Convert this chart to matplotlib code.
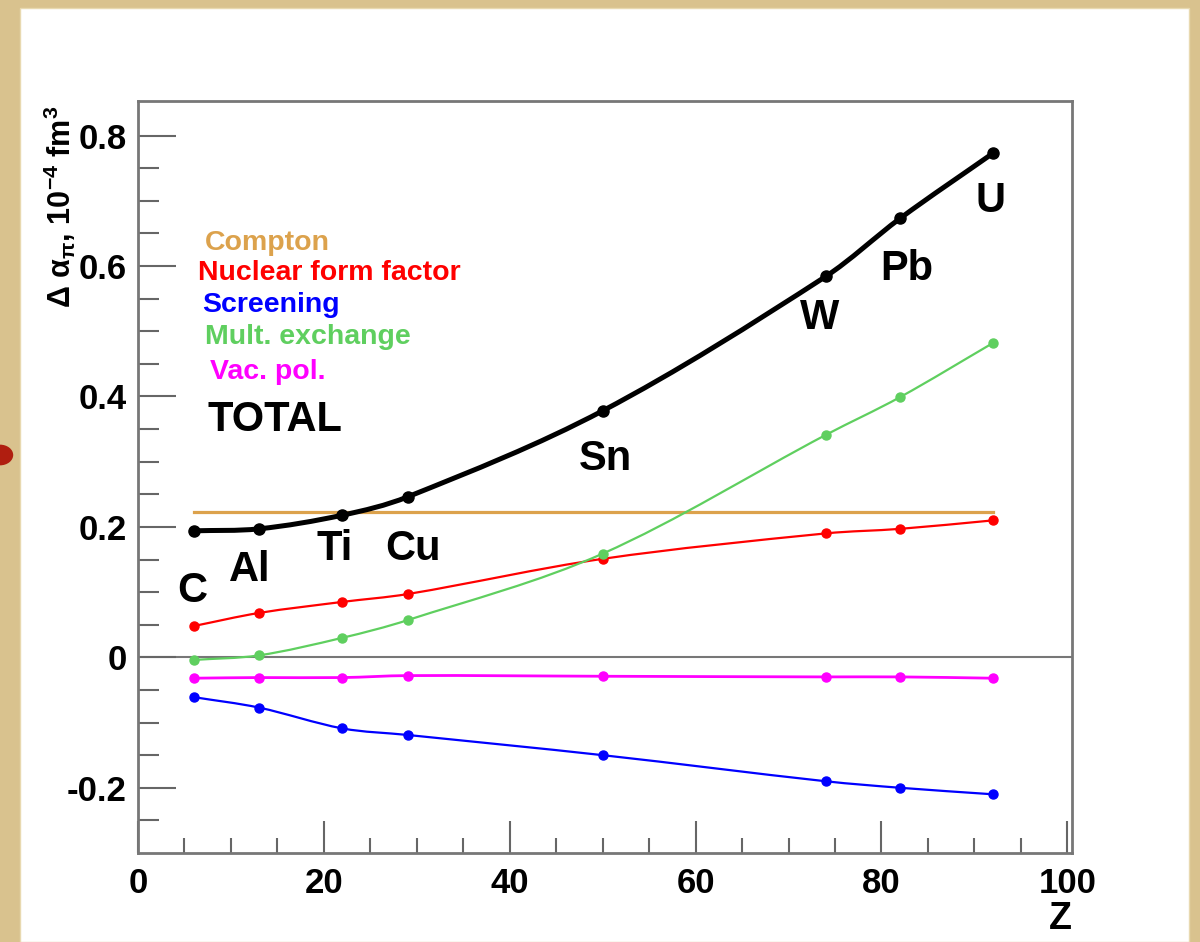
import numpy as np
import matplotlib.pyplot as plt
from matplotlib.path import Path
from matplotlib.patches import PathPatch, Rectangle, Circle

plt.rcParams['font.family'] = ['Liberation Sans', 'DejaVu Sans']
plt.rcParams['font.weight'] = 'bold'
plt.rcParams['mathtext.fontset'] = 'custom'
plt.rcParams['mathtext.rm'] = 'Liberation Sans:bold'
plt.rcParams['mathtext.it'] = 'Liberation Sans:bold'
plt.rcParams['mathtext.bf'] = 'Liberation Sans:bold'

# nuclei and their charge
elements = ['C', 'Al', 'Ti', 'Cu', 'Sn', 'W', 'Pb', 'U']
z = [6, 13, 22, 29, 50, 74, 82, 92]

# corrections to alpha_pi, 10^-4 fm^3
compton = [0.223, 0.223, 0.223, 0.223, 0.223, 0.223, 0.223, 0.223]
nuclear_ff = [0.048, 0.068, 0.085, 0.097, 0.151, 0.190, 0.197, 0.210]
screening = [-0.061, -0.077, -0.109, -0.119, -0.150, -0.190, -0.200, -0.210]
mult_exchange = [-0.004, 0.003, 0.030, 0.057, 0.159, 0.341, 0.399, 0.482]
vac_pol = [-0.032, -0.031, -0.031, -0.028, -0.029, -0.030, -0.030, -0.032]
total = [0.194, 0.197, 0.218, 0.246, 0.378, 0.584, 0.673, 0.773]


def smooth_path(xs, ys):
    # cubic Hermite segments as Bezier curves through the points
    xs = np.asarray(xs, float)
    ys = np.asarray(ys, float)
    n = len(xs)
    m = np.empty(n)
    m[0] = (ys[1] - ys[0]) / (xs[1] - xs[0])
    m[-1] = (ys[-1] - ys[-2]) / (xs[-1] - xs[-2])
    for i in range(1, n - 1):
        m[i] = (ys[i + 1] - ys[i - 1]) / (xs[i + 1] - xs[i - 1])
    verts = [(xs[0], ys[0])]
    codes = [Path.MOVETO]
    for i in range(n - 1):
        h = xs[i + 1] - xs[i]
        verts += [(xs[i] + h / 3, ys[i] + m[i] * h / 3),
                  (xs[i + 1] - h / 3, ys[i + 1] - m[i + 1] * h / 3),
                  (xs[i + 1], ys[i + 1])]
        codes += [Path.CURVE4] * 3
    return Path(verts, codes)


fig = plt.figure(figsize=(12, 9.42), dpi=100, facecolor='#d9c28e')
fig.patches.append(Rectangle((20 / 1200, 0), 1169 / 1200, 934 / 942,
                             transform=fig.transFigure, facecolor='white',
                             edgecolor='#e8d9b0', lw=1, zorder=-2))
fig.patches.append(Circle((0, 1 - 455 / 942), 0.011, transform=fig.transFigure,
                          facecolor='#b01e10', edgecolor='none', zorder=-1))

ax = fig.add_axes([138 / 1200, 89 / 942, 934 / 1200, 752 / 942], zorder=1)
ax.set_xlim(0, 100.5)
ax.set_ylim(-0.3, 0.853)
ax.axhline(0, color='#777777', lw=1.5, zorder=1)

series = [
    (compton, '#dca24c', 2.3, 0),
    (nuclear_ff, '#ff0000', 1.6, 6.5),
    (screening, '#0000ff', 1.6, 6.5),
    (mult_exchange, '#5fcf5f', 1.6, 6.5),
    (vac_pol, '#ff00ff', 2.0, 6.5),
    (total, 'black', 3.6, 8),
]
for vals, col, lw, ms in series:
    if ms == 0:
        ax.plot([z[0], z[-1]], [vals[0], vals[-1]], color=col, lw=lw, zorder=2)
        continue
    ax.add_patch(PathPatch(smooth_path(z, vals), facecolor='none',
                           edgecolor=col, lw=lw, zorder=3))
    ax.plot(z, vals, ls='none', marker='o', ms=ms, color=col, zorder=4)

# element names next to the total curve
label_pos = [(192, 591), (250, 570), (335, 549), (413, 549),
             (605, 459), (820, 318), (907, 269), (990, 201)]
for name, (px, py) in zip(elements, label_pos):
    fig.text(px / 1200, 1 - py / 942, name, fontsize=30, fontweight='bold',
             ha='center', va='center', zorder=5)

# coloured legend text
legend = [('Compton', '#dca24c', 205, 243, 20.5),
          ('Nuclear form factor', '#ff0000', 198, 273, 20.5),
          ('Screening', '#0000ff', 202, 305, 20.5),
          ('Mult. exchange', '#5fcf5f', 205, 337, 20.5),
          ('Vac. pol.', '#ff00ff', 210, 372, 20.5),
          ('TOTAL', 'black', 208, 420, 30)]
for txt, col, px, py, fs in legend:
    fig.text(px / 1200, 1 - py / 942, txt, color=col, fontsize=fs,
             fontweight='bold', ha='left', va='center', zorder=5)

ax.set_xticks([0, 20, 40, 60, 80, 100])
ax.set_xticks(np.arange(0, 101, 5), minor=True)
ax.set_yticks([-0.2, 0, 0.2, 0.4, 0.6, 0.8])
ax.set_yticklabels(['-0.2', '0', '0.2', '0.4', '0.6', '0.8'])
ax.set_xticklabels(['0', '20', '40', '60', '80', '100'])
ax.set_yticks(np.arange(-0.25, 0.801, 0.05), minor=True)
ax.tick_params(which='both', direction='in', top=False, right=False,
               color='#666666', width=1.5, labelsize=25)
ax.tick_params(axis='y', which='major', length=27, pad=8)
ax.tick_params(axis='y', which='minor', length=15)
ax.tick_params(axis='x', which='major', length=23, pad=10)
ax.tick_params(axis='x', which='minor', length=11)
for lab in ax.get_xticklabels() + ax.get_yticklabels():
    lab.set_fontweight('bold')
for sp in ax.spines.values():
    sp.set_color('#777777')
    sp.set_linewidth(2)

fig.text(1072 / 1200, 1 - 919 / 942, 'Z', fontsize=27, fontweight='bold',
         ha='right', va='center', zorder=5)
fig.text(60 / 1200, 1 - 106 / 942,
         r'$\Delta\ \alpha_{\pi}$, 10$^{-4}$ fm$^{3}$',
         fontsize=22, rotation=90, ha='center', va='top', zorder=5)

fig.savefig('out.png', dpi=100, facecolor=fig.get_facecolor())
